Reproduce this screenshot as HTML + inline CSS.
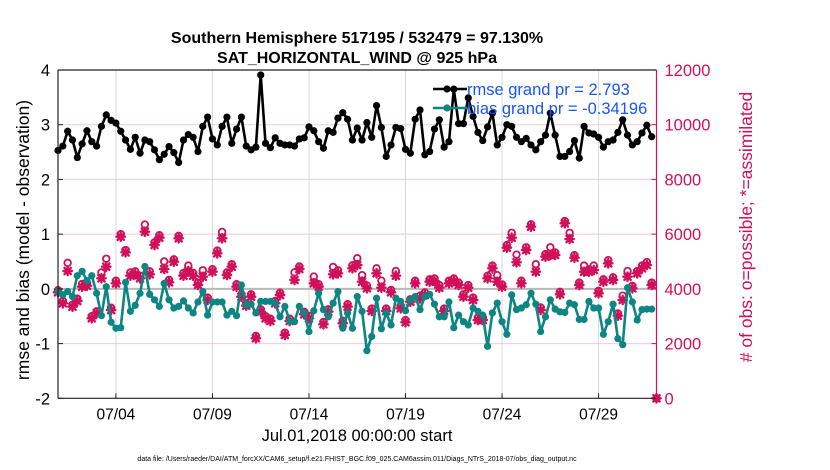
<!DOCTYPE html>
<html><head><meta charset="utf-8"><style>
html,body{margin:0;padding:0;background:#fff;}
svg{display:block;font-family:"Liberation Sans",sans-serif;}
</style></head><body>
<svg id="chart" width="830" height="470" viewBox="0 0 830 470">
<text x="357" y="43" text-anchor="middle" font-size="16" font-weight="bold">Southern Hemisphere 517195 / 532479 = 97.130%</text>
<text x="357" y="63" text-anchor="middle" font-size="16" font-weight="bold">SAT_HORIZONTAL_WIND @ 925 hPa</text>
<g id="grid"></g>
<g id="marks"></g>
<g id="axes"></g>
<text transform="translate(29,240) rotate(-90)" text-anchor="middle" font-size="17.5">rmse and bias (model - observation)</text>
<text transform="translate(752,227) rotate(-90)" text-anchor="middle" font-size="17.5" fill="#d0105a"># of obs: o=possible; *=assimilated</text>
<text x="357" y="441" text-anchor="middle" font-size="16.5">Jul.01,2018 00:00:00 start</text>
<text x="357" y="461" text-anchor="middle" font-size="7">data file: /Users/raeder/DAI/ATM_forcXX/CAM6_setup/f.e21.FHIST_BGC.f09_025.CAM6assim.011/Diags_NTrS_2018-07/obs_diag_output.nc</text>
<g id="legend"></g>
</svg>
<script>
const xTickLabels = ["07/04","07/09","07/14","07/19","07/24","07/29"];
const xTickDays = [3,8,13,18,23,28];
const leftTicks = [-2,-1,0,1,2,3,4];
const rightTicks = [0,2000,4000,6000,8000,10000,12000];
const rmse = [2.53,2.61,2.88,2.72,2.40,2.65,2.89,2.69,2.61,2.97,3.18,3.08,3.03,2.88,2.72,2.55,2.77,2.48,2.72,2.69,2.54,2.36,2.46,2.60,2.49,2.31,2.72,2.82,2.77,2.51,2.97,3.14,2.74,2.63,2.97,3.14,2.66,2.92,3.14,2.61,2.54,2.59,3.91,2.66,2.58,2.76,2.66,2.63,2.63,2.61,2.74,2.76,2.96,2.89,2.69,2.57,2.89,2.86,3.12,3.22,3.10,
2.72,2.94,2.72,3.04,2.77,3.35,2.95,2.42,2.63,2.95,2.93,2.55,2.48,3.10,3.27,2.45,2.51,2.92,3.09,2.59,2.69,3.65,3.02,3.02,3.49,3.15,2.86,2.71,2.96,3.21,2.63,2.77,3.00,2.97,2.77,2.69,2.75,2.63,2.54,2.69,2.81,3.21,2.81,2.42,2.42,2.51,2.71,2.39,2.97,2.85,2.83,2.77,2.59,2.69,2.72,2.86,3.09,2.81,2.63,2.69,2.85,2.99,2.78];
const bias = [-0.05,-0.11,-0.05,-0.14,0.24,0.32,0.15,0.24,-0.08,-0.49,0.04,-0.61,-0.72,-0.71,0.12,-0.41,-0.30,-0.08,0.41,-0.10,-0.20,-0.32,0.10,-0.20,-0.35,-0.32,-0.22,-0.35,-0.44,-0.24,
-0.05,-0.48,-0.24,-0.24,-0.24,-0.48,-0.41,-0.49,0.07,-0.29,-0.28,-0.44,-0.23,-0.23,-0.23,-0.26,-0.51,-0.32,-0.59,-0.60,-0.32,-0.44,-0.78,-0.40,-0.08,-0.38,-0.51,-0.26,-0.05,
-0.72,-0.44,-0.72,-0.14,-0.41,-1.13,-0.87,-0.17,-0.73,-0.44,-0.66,-0.17,-0.23,-0.40,-0.20,-0.14,-0.38,-0.14,-0.10,-0.28,-0.51,-0.51,-0.24,-0.71,-0.48,-0.60,-0.66,-0.35,-0.41,
-0.48,-1.05,-0.44,-0.26,-0.60,-0.83,-0.11,-0.38,-0.35,-0.29,-0.08,-0.28,-0.78,-0.51,-0.20,-0.37,-0.42,-0.43,-0.26,-0.29,-0.56,-0.56,-0.23,-0.35,-0.35,-0.83,-0.60,-0.28,-0.91,-1.02,0.02,-0.24,-0.57,-0.38,-0.37,-0.37];
const obsAssim = [3874,3472,4653,3348,3557,4079,4116,2924,3107,4386,4810,3227,4202,5907,5336,4481,4532,4386,6089,4532,5603,5870,4726,4239,4993,5848,4481,4653,4481,4141,
4444,3593,4627,5300,5848,4507,4810,4079,3714,3385,3714,2193,3165,2924,2825,3472,3776,2314,2825,4324,4726,3070,2924,4203,4079,2705,3165,4532,4569,
2741,3348,4752,4872,4262,4021,3191,4569,4042,3191,3874,4481,3290,2778,3531,4203,3655,3776,4262,4287,4042,3191,4203,4287,4141,3714,4042,3593,2862,
2862,4386,4752,4262,4079,5505,5870,4971,4203,5420,6272,4627,3227,5176,5238,5238,3801,6396,5822,5139,4141,4627,4627,4689,3838,4262,4934,4324,3019,3593,4444,4021,
4569,4752,4873,4141,0];
const obsPossible = [3950,3560,4950,3420,3640,4180,4200,3000,3180,4600,5100,3310,4300,6000,5420,4600,4640,4480,6350,4640,5700,5960,5000,4330,5080,5940,4580,4850,4580,4230,
4680,3680,4720,5400,6080,4600,4900,4170,3800,3470,3800,2280,3250,3000,2910,3560,3860,2400,2910,4600,4820,3160,3010,4450,4170,2790,3250,4800,4680,
2830,3440,4860,5120,4500,4120,3280,4750,4300,3280,3960,4650,3380,2860,3620,4300,3750,3870,4350,4380,4140,3280,4300,4380,4230,3800,4140,3680,2950,
2950,4480,4850,4500,4160,5600,6050,5250,4300,5520,6360,4900,3320,5270,5520,5330,3890,6480,6050,5230,4230,4850,4710,4850,3930,4350,5050,4420,3100,3750,4650,4110,
4650,4850,4980,4230,0];

const NS="http://www.w3.org/2000/svg";
const X0=58,X1=656.5,Y0=70,Y1=398.3,DAYS=31;
const RED="#d0105a",TEAL="#0c8583";
function xs(d){return X0+d*(X1-X0)/DAYS;}
function yl(v){return Y1-(v+2)*(Y1-Y0)/6;}
function yr(v){return Y1-v*(Y1-Y0)/12000;}
function mk(tag,attrs,parent){const e=document.createElementNS(NS,tag);for(const k in attrs)e.setAttribute(k,attrs[k]);parent.appendChild(e);return e;}
const grid=document.getElementById('grid'),marks=document.getElementById('marks'),axes=document.getElementById('axes'),legend=document.getElementById('legend');

leftTicks.forEach(v=>{
  if(v!==-2&&v!==4&&v!==0){const l=mk('line',{x1:X0,x2:X1,y1:yl(v),y2:yl(v),stroke:"#f2c8d8","stroke-width":1},grid);
  
  }
  const t=mk('text',{x:X0-8,y:yl(v)+6,"text-anchor":"end","font-size":16.5},axes);t.textContent=v;
  
  
  mk('line',{x1:X0,x2:X0+5,y1:yl(v),y2:yl(v),stroke:"#222"},axes);
});
rightTicks.forEach(v=>{
  const t=mk('text',{x:X1+8,y:yr(v)+6,"font-size":16.5,fill:RED},axes);t.textContent=v;
  
  
  mk('line',{x1:X1-5,x2:X1,y1:yr(v),y2:yr(v),stroke:RED},axes);
});
xTickDays.forEach((d,i)=>{
  const g=mk('line',{x1:xs(d),x2:xs(d),y1:Y0,y2:Y1,stroke:"#d8d8d8","stroke-width":1},grid);
  
  
  mk('line',{x1:xs(d),x2:xs(d),y1:Y1,y2:Y1-5,stroke:"#222"},axes);
  const t=mk('text',{x:xs(d),y:Y1+21,"text-anchor":"middle","font-size":15.5},axes);t.textContent=xTickLabels[i];
  
  
});
const zl=mk('line',{x1:X0,x2:X1,y1:yl(0),y2:yl(0),stroke:"#b8b8b8","stroke-width":2},grid);



function star(cx,cy,parent){
  const g=mk('g',{stroke:RED,"stroke-width":2.4,"stroke-linecap":"round"},parent);
  const r=4.2;
  mk('line',{x1:cx-r,x2:cx+r,y1:cy,y2:cy},g);
  mk('line',{x1:cx,x2:cx,y1:cy-r,y2:cy+r},g);
  mk('line',{x1:cx-r*0.75,x2:cx+r*0.75,y1:cy-r*0.75,y2:cy+r*0.75},g);
  mk('line',{x1:cx-r*0.75,x2:cx+r*0.75,y1:cy+r*0.75,y2:cy-r*0.75},g);
  return g;
}
obsPossible.forEach((v,i)=>{
  const c=mk('circle',{cx:xs(i*0.25),cy:yr(v),r:3.3,fill:"none",stroke:RED,"stroke-width":1.8},marks);
  
  
});
obsAssim.forEach((v,i)=>{
  const g=star(xs(i*0.25),yr(v),marks);
  
  
});
function series(vals,color,name){
  const pts=vals.map((v,i)=>xs(i*0.25).toFixed(1)+","+yl(v).toFixed(1)).join(" ");
  const pl=mk('polyline',{points:pts,fill:"none",stroke:color,"stroke-width":2.6,"stroke-linejoin":"round"},marks);
  
  
  vals.forEach((v,i)=>{
    const c=mk('circle',{cx:xs(i*0.25),cy:yl(v),r:3.6,fill:color},marks);
    
    
  });
}
series(bias,TEAL,'bias');
series(rmse,"#000",'rmse');

mk('line',{x1:X0,x2:X0,y1:Y0,y2:Y1,stroke:"#222","stroke-width":1.2},axes);
mk('line',{x1:X0,x2:X1,y1:Y1,y2:Y1,stroke:"#222","stroke-width":1.2},axes);
mk('line',{x1:X0,x2:X1,y1:Y0,y2:Y0,stroke:"#222","stroke-width":1.2},axes);
mk('line',{x1:X1,x2:X1,y1:Y0,y2:Y1,stroke:RED,"stroke-width":1.2},axes);

[["rmse grand pr = 2.793","#000",89,"legend-entry-rmse"],["bias grand pr = -0.34196",TEAL,108,"legend-entry-bias"]].forEach(e=>{
  const g=mk('g',{},legend);
  
  
  mk('line',{x1:433,x2:467,y1:e[2],y2:e[2],stroke:e[1],"stroke-width":2.6},g);
  mk('circle',{cx:447,cy:e[2],r:3.6,fill:e[1]},g);
  const t=mk('text',{x:467,y:e[2]+6,"font-size":16.5,fill:"#1a55f5"},g);t.textContent=e[0];
});
</script>
</body></html>
